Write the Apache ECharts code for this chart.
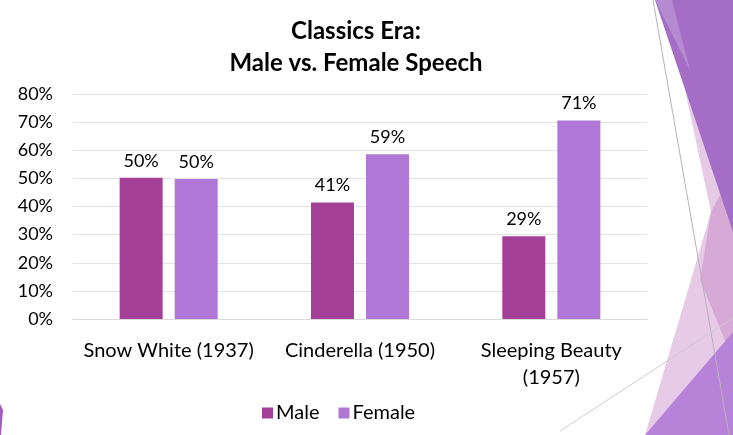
<!DOCTYPE html>
<html>
<head>
<meta charset="utf-8">
<script src="https://cdn.jsdelivr.net/npm/echarts@6/dist/echarts.min.js"></script>
<style>
	html, body { margin: 0; padding: 0; background: #fff; }
	#speech { width: 733px; height: 435px; }
</style>
</head>
<body>
<div id="speech"></div>
<script>
	// films and share of speech (%)
	var films = ['Snow White (1937)', 'Cinderella (1950)', 'Sleeping Beauty\n(1957)'];
	var maleData = [50.2, 41.4, 29.4];
	var femaleData = [49.8, 58.6, 70.6];
	var seriesNames = ['Male', 'Female'];

	var font = 'Lato, "Open Sans", sans-serif';

	var chart = echarts.init(document.getElementById('speech'));
	var options = {
		animation: false,
		title: {
			text: 'Classics Era:\nMale vs. Female Speech',
			left: 351,
			textAlign: 'center',
			top: 10,
			textStyle: {
				fontFamily: font,
				fontWeight: 'bold',
				fontSize: 24,
				lineHeight: 32,
				color: '#000'
			}
		},
		legend: {
			data: seriesNames,
			left: 257,
			top: 398,
			icon: 'rect',
			itemWidth: 11,
			itemHeight: 11,
			itemGap: 19,
			textStyle: {
				fontFamily: font,
				fontSize: 20,
				color: '#000',
				padding: [0, 0, 0, -2]
			}
		},
		grid: {
			left: 73,
			right: 86,
			top: 94,
			bottom: 116
		},
		xAxis: {
			type: 'category',
			data: films,
			axisLine: {
				lineStyle: { color: '#d9d9d9' }
			},
			axisTick: { show: false },
			axisLabel: {
				interval: 0,
				fontFamily: font,
				fontSize: 20,
				color: '#000',
				margin: 18,
				lineHeight: 27
			}
		},
		yAxis: {
			type: 'value',
			min: 0,
			max: 80,
			interval: 10,
			axisLabel: {
				formatter: '{value}%',
				fontFamily: font,
				fontSize: 18,
				color: '#000',
				margin: 20
			},
			splitLine: {
				lineStyle: { color: '#e3e3e3' }
			}
		},
		series: [{
				name: 'Male',
				type: 'bar',
				barWidth: 43,
				barGap: '28%',
				itemStyle: { color: '#a43f98' },
				label: {
					show: true,
					position: 'top',
					distance: 8,
					fontFamily: font,
					fontSize: 18,
					color: '#000',
					formatter: function(p) { return Math.round(p.value) + '%'; }
				},
				data: maleData
			},
			{
				name: 'Female',
				type: 'bar',
				barWidth: 43,
				itemStyle: { color: '#b077d6' },
				label: {
					show: true,
					position: 'top',
					distance: 8,
					fontFamily: font,
					fontSize: 18,
					color: '#000',
					formatter: function(p) { return Math.round(p.value) + '%'; }
				},
				data: femaleData
			}
		],
		// slide decoration on the right edge
		graphic: [{
				type: 'polygon', z: -10, silent: true,
				shape: { points: [[684, 85], [733, 85], [733, 435], [645, 435], [711, 212]] },
				style: { fill: '#e7cbe6' }
			},
			{
				type: 'polygon', z: -9, silent: true,
				shape: { points: [[711, 212], [733, 170], [733, 360], [700, 280]] },
				style: { fill: '#d7a9d6' }
			},
			{
				type: 'polygon', z: -8, silent: true,
				shape: { points: [[655, 0], [733, 0], [733, 232]] },
				style: { fill: '#a46ec6' }
			},
			{
				type: 'polygon', z: -7, silent: true,
				shape: { points: [[655, 0], [672, 0], [690, 70]] },
				style: { fill: '#b48ad0' }
			},
			{
				type: 'polygon', z: -6, silent: true,
				shape: { points: [[645, 435], [733, 332], [733, 435]] },
				style: { fill: '#b783d9' }
			},
			{
				type: 'line', z: -5, silent: true,
				shape: { x1: 653, y1: 0, x2: 729, y2: 435 },
				style: { stroke: '#b8b0bc', lineWidth: 1 }
			},
			{
				type: 'line', z: -5, silent: true,
				shape: { x1: 560, y1: 431, x2: 733, y2: 318 },
				style: { stroke: '#d0c8d4', lineWidth: 1 }
			},
			{
				type: 'polygon', z: -5, silent: true,
				shape: { points: [[0, 404], [3, 410], [1, 435], [0, 435]] },
				style: { fill: '#a45cbc' }
			}
		]
	};
	chart.setOption(options);
</script>
</body>
</html>
